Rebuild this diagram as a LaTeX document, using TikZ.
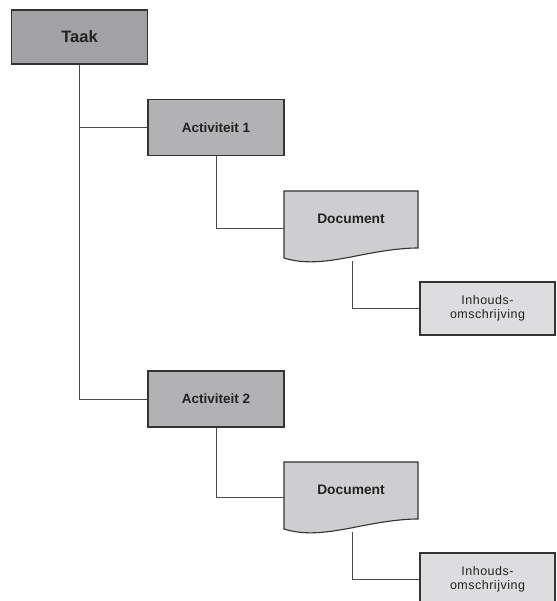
\documentclass[tikz,border=0pt]{standalone}
\usepackage{fontspec}
\setmainfont{Liberation Sans}
\newfontfamily\spacedfont[LetterSpace=4]{Liberation Sans}
\usetikzlibrary{calc}
\pgfdeclarelayer{background}
\pgfdeclarelayer{canvas}
\pgfsetlayers{canvas,background,main}
\definecolor{taakgray}{HTML}{A2A2A5}
\definecolor{actgray}{HTML}{B2B2B5}
\definecolor{docgray}{HTML}{CECED0}
\definecolor{inhgray}{HTML}{DDDDDF}
\definecolor{edgegray}{HTML}{333333}
\definecolor{linegray}{HTML}{4A4A4A}
\definecolor{txt}{HTML}{222222}
\tikzset{
  box/.style={draw=edgegray, line width=1.1pt, inner sep=0pt, text=txt, align=center},
  taakbox/.style={box, fill=taakgray, minimum width=136pt, minimum height=54pt, font=\fontsize{16.5}{18}\selectfont\bfseries},
  actbox/.style={box, fill=actgray, minimum width=136pt, minimum height=56pt, font=\fontsize{13.5}{16}\selectfont\bfseries},
  doctext/.style={inner sep=0pt, minimum width=134pt, text=txt, font=\fontsize{13.8}{16}\selectfont\bfseries},
  docshape/.style={fill=docgray, draw=edgegray, line width=1.1pt},
  inhbox/.style={box, fill=inhgray, minimum width=135pt, minimum height=53pt, font=\fontsize{12.5}{15}\selectfont\spacedfont},
  conn/.style={draw=linegray, line width=0.9pt}
}
\newcommand\docpath[1]{%
  \begin{pgfonlayer}{background}
  \path[docshape] ($(#1)+(-67,-28)$) -- ($(#1)+(67,-28)$) -- ($(#1)+(67,29)$)
    .. controls ($(#1)+(45,29)$) and ($(#1)+(20,34)$) .. ($(#1)+(0,38)$)
    .. controls ($(#1)+(-22,42)$) and ($(#1)+(-45,46)$) .. ($(#1)+(-67,39)$) -- cycle;
  \end{pgfonlayer}}
\begin{document}
\begin{tikzpicture}[x=1pt,y=-1pt]
\clip (0,0) rectangle (556,601);
\path[use as bounding box] (0,0) rectangle (556,601);
\begin{pgfonlayer}{canvas}
\fill[white] (0,0) rectangle (556,601);
\end{pgfonlayer}
\node[taakbox] (taak) at (79.5,37) {Taak};
\node[actbox] (act1) at (216,127.5) {Activiteit 1};
\node[actbox] (act2) at (216,399) {Activiteit 2};
\node[doctext] (d1) at (351,219) {Document};
\node[doctext] (d2) at (351,490) {Document};
\docpath{d1}
\docpath{d2}
\node[inhbox] (i1) at (487.5,308.5) {Inhouds-\\[-0.5pt]omschrijving};
\node[inhbox] (i2) at (487.5,579.5) {Inhouds-\\[-0.5pt]omschrijving};
\begin{pgfonlayer}{background}
\draw[conn] (taak.south) |- (act1.west);
\draw[conn] (taak.south) |- (act2.west);
\draw[conn] (act1.south) |- ($(d1.west)+(0,9)$);
\draw[conn] (act2.south) |- ($(d2.west)+(0,7)$);
\draw[conn] ($(d1.south)+(1,37)$) |- (i1.west);
\draw[conn] ($(d2.south)+(1,37)$) |- (i2.west);
\end{pgfonlayer}
\end{tikzpicture}
\end{document}
